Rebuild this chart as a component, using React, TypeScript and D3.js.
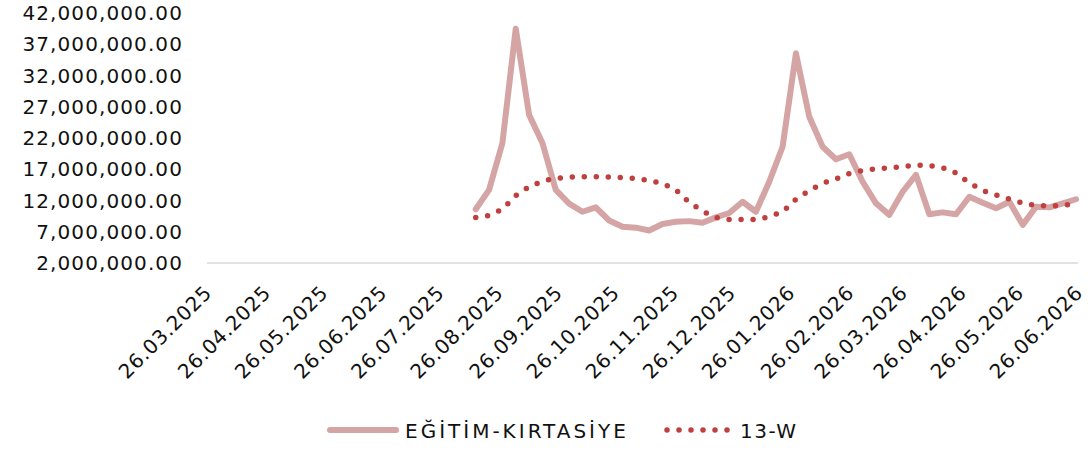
import React from "react";
import * as d3 from "d3";

const dates: string[] = [
  "14.08.2025", "21.08.2025", "28.08.2025", "04.09.2025", "11.09.2025", "18.09.2025", "25.09.2025",
  "02.10.2025", "09.10.2025", "16.10.2025", "23.10.2025", "30.10.2025",
  "06.11.2025", "13.11.2025", "20.11.2025", "27.11.2025",
  "04.12.2025", "11.12.2025", "18.12.2025", "25.12.2025",
  "01.01.2026", "08.01.2026", "15.01.2026", "22.01.2026", "29.01.2026",
  "05.02.2026", "12.02.2026", "19.02.2026", "26.02.2026",
  "05.03.2026", "12.03.2026", "19.03.2026", "26.03.2026",
  "02.04.2026", "09.04.2026", "16.04.2026", "23.04.2026", "30.04.2026",
  "07.05.2026", "14.05.2026", "21.05.2026", "28.05.2026",
  "04.06.2026", "11.06.2026", "18.06.2026", "25.06.2026",
];

// EĞİTİM-KIRTASİYE (millions)
const egitim: number[] = [
  10.6, 13.7, 21.2, 39.5, 25.7, 21.2, 13.7, 11.5, 10.2, 10.9, 8.8, 7.8,
  7.65, 7.2, 8.25, 8.6, 8.7, 8.45, 9.3, 10.0, 11.8, 10.2, 15.0, 20.6,
  35.55, 25.4, 20.6, 18.6, 19.4, 15.0, 11.55, 9.7, 13.4, 16.1, 9.8, 10.1,
  9.8, 12.6, 11.65, 10.75, 11.8, 8.1, 11.0, 10.9, 11.55, 12.2,
];

// 13-W (millions)
const w13: number[] = [
  9.3, 9.6, 10.6, 12.8, 14.2, 15.1, 15.55, 15.75, 15.8, 15.8, 15.75, 15.65,
  15.5, 15.2, 14.75, 13.7, 11.7, 10.3, 9.25, 8.95, 8.95, 8.95, 9.4, 10.2,
  12.2, 13.6, 14.75, 15.45, 16.3, 16.8, 17.05, 17.2, 17.4, 17.65, 17.6, 17.25,
  16.4, 14.8, 13.6, 12.9, 12.25, 11.6, 11.2, 11.1, 11.25, 11.45,
];

const xTickLabels: string[] = [
  "26.03.2025", "26.04.2025", "26.05.2025", "26.06.2025", "26.07.2025", "26.08.2025",
  "26.09.2025", "26.10.2025", "26.11.2025", "26.12.2025", "26.01.2026", "26.02.2026",
  "26.03.2026", "26.04.2026", "26.05.2026", "26.06.2026",
];

const yTicks: number[] = [2, 7, 12, 17, 22, 27, 32, 37, 42];

const seriesNames: string[] = ["EĞİTİM-KIRTASİYE", "13-W"];

const parse = d3.timeParse("%d.%m.%Y");
const FONT = "'DejaVu Sans', sans-serif";

export default function App() {
  const W = 1088;
  const H = 450;
  const x = d3
    .scaleTime()
    .domain([parse(xTickLabels[0])!, parse(xTickLabels[xTickLabels.length - 1])!])
    .range([207, 1078]);
  const y = d3.scaleLinear().domain([2, 42]).range([263, 13]);

  const pts = dates.map((d) => parse(d)!);
  const line = d3
    .line<number>()
    .x((_, i) => x(pts[i]))
    .y((v) => y(v));

  const fmt = (v: number) => d3.format(",.2f")(v * 1e6);

  return (
    <svg
      width={W}
      height={H}
      style={{ position: "absolute", left: 0, top: 0, background: "#fff" }}
      fontFamily={FONT}
    >
      {/* y axis labels */}
      {yTicks.map((t) => (
        <text
          key={t}
          x={183}
          y={y(t)}
          textAnchor="end"
          dominantBaseline="central"
          fontSize={20}
          letterSpacing={1.1}
          fill="#111"
        >
          {fmt(t)}
        </text>
      ))}
      {/* x axis line */}
      <line x1={207} x2={1078} y1={263} y2={263} stroke="#d9d9d9" strokeWidth={1.5} />
      {/* x labels */}
      {xTickLabels.map((l) => {
        const tx = x(parse(l)!) + 6;
        const ty = 294;
        return (
          <text
            key={l}
            x={tx}
            y={ty}
            transform={`rotate(-45 ${tx} ${ty})`}
            textAnchor="end"
            fontSize={20}
            letterSpacing={0.7}
            fill="#111"
          >
            {l}
          </text>
        );
      })}
      {/* series */}
      <path
        d={line(egitim) || ""}
        fill="none"
        stroke="#d4a5a4"
        strokeWidth={6}
        strokeLinejoin="round"
        strokeLinecap="round"
      />
      <path
        d={line(w13) || ""}
        fill="none"
        stroke="#c0403f"
        strokeWidth={5.5}
        strokeDasharray="0 12"
        strokeLinecap="round"
        strokeLinejoin="round"
      />
      {/* legend */}
      <line x1={330} x2={396} y1={430} y2={430} stroke="#d4a5a4" strokeWidth={6} strokeLinecap="round" />
      <text x={405} y={431} dominantBaseline="central" fontSize={20} letterSpacing={3} fill="#111">
        {seriesNames[0]}
      </text>
      <line
        x1={667}
        x2={728}
        y1={430}
        y2={430}
        stroke="#c0403f"
        strokeWidth={5.5}
        strokeDasharray="0 12"
        strokeLinecap="round"
      />
      <text x={740} y={431} dominantBaseline="central" fontSize={20} letterSpacing={1.5} fill="#111">
        {seriesNames[1]}
      </text>
    </svg>
  );
}
